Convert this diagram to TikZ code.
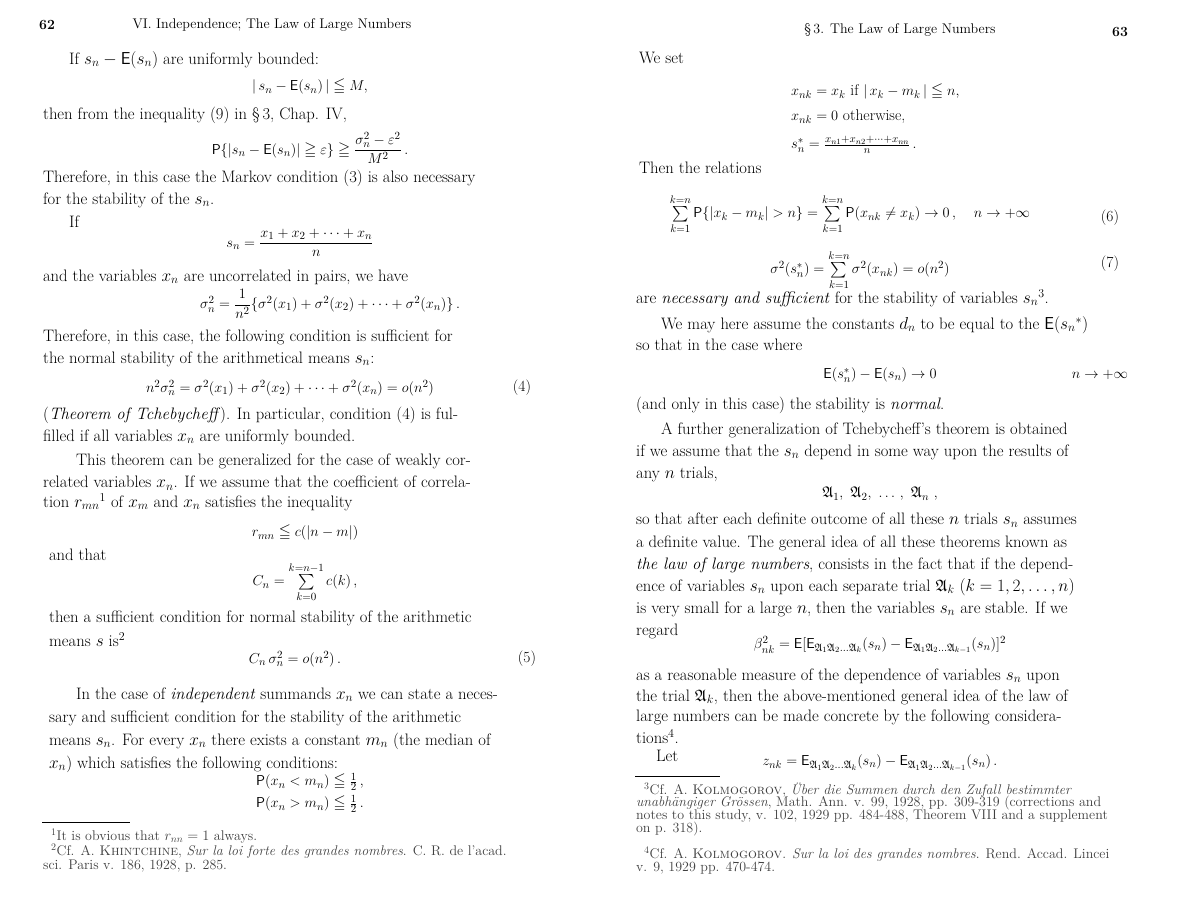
\documentclass[tikz,border=0pt]{standalone}
\usepackage{amsmath,amssymb}
\tikzset{every picture/.style={line width=0.75pt}}
\tikzset{
  txt/.style={anchor=west,inner sep=0.75pt,font=\fontsize{16.6}{19}\selectfont},
  eq/.style={inner sep=0.75pt,font=\fontsize{15.5}{18}\selectfont},
  fn/.style={anchor=west,inner sep=0.75pt,font=\fontsize{14}{15}\selectfont,text=black!75},
  hd/.style={inner sep=0.75pt,font=\fontsize{14}{16}\selectfont}
}
\newcommand{\PP}{\mathsf{P}}
\newcommand{\EE}{\mathsf{E}}
\newcommand{\A}{\mathfrak{A}}
\begin{document}
\begin{tikzpicture}[x=1pt,y=1pt,yscale=-1,xscale=1]
		\useasboundingbox (0,0) rectangle (1200,900);
		%left page
		\node (pgl) [hd] at (47,25) {\textbf{62}};
		\node (hdl) [hd] at (272,25) {VI. Independence; The Law of Large Numbers};
		\node (l1) [txt] at (68,60) {If $s_n-\EE(s_n)$ are uniformly bounded:};
		\node (e1) [eq] at (310,87) {$|\,s_n-\EE(s_n)\,|\leqq M,$};
		\node (l2) [txt] at (42,115) {then from the inequality (9) in \S\,3, Chap. IV,};
		\node (e2) [eq] at (310,148) {$\PP\{|s_n-\EE(s_n)|\geqq\varepsilon\}\geqq\dfrac{\sigma_n^2-\varepsilon^2}{M^2}\,.$};
		\node (l3) [txt] at (42,178) {Therefore, in this case the Markov condition (3) is also necessary};
		\node (l4) [txt] at (42,200) {for the stability of the $s_n$.};
		\node (l5) [txt] at (68,222) {If};
		\node (e3) [eq] at (300,243) {$s_n=\dfrac{x_1+x_2+\cdots+x_n}{n}$};
		\node (l6) [txt] at (42,277) {and the variables $x_n$ are uncorrelated in pairs, we have};
		\node (e4) [eq] at (330,304) {$\sigma_n^2=\dfrac{1}{n^2}\{\sigma^2(x_1)+\sigma^2(x_2)+\cdots+\sigma^2(x_n)\}\,.$};
		\node (l7) [txt] at (42,337) {Therefore, in this case, the following condition is sufficient for};
		\node (l8) [txt] at (42,359) {the normal stability of the arithmetical means $s_n$:};
		\node (e5) [eq] at (290,388) {$n^2\sigma_n^2=\sigma^2(x_1)+\sigma^2(x_2)+\cdots+\sigma^2(x_n)=o(n^2)$};
		\node (n4) [eq] at (522,388) {(4)};
		\node (l9) [txt] at (42,415) {(\textit{Theorem of Tchebycheff}). In particular, condition (4) is ful-};
		\node (l10) [txt] at (42,437) {filled if all variables $x_n$ are uniformly bounded.};
		\node (l11) [txt] at (75,461) {This theorem can be generalized for the case of weakly cor-};
		\node (l12) [txt] at (42,483) {related variables $x_n$. If we assume that the coefficient of correla-};
		\node (l13) [txt] at (42,502) {tion $r_{mn}{}^1$ of $x_m$ and $x_n$ satisfies the inequality};
		\node (e6) [eq] at (305,533) {$r_{mn}\leqq c(|n-m|)$};
		\node (l14) [txt] at (48,555) {and that};
		\node (e7) [eq] at (305,582) {$C_n=\sum\limits_{k=0}^{k=n-1}c(k)\,,$};
		\node (l15) [txt] at (48,618) {then a sufficient condition for normal stability of the arithmetic};
		\node (l16) [txt] at (48,640) {means $s$ is$^2$};
		\node (e8) [eq] at (295,659) {$C_n\,\sigma_n^2=o(n^2)\,.$};
		\node (n5) [eq] at (527,659) {(5)};
		\node (l17) [txt] at (75,695) {In the case of \textit{independent} summands $x_n$ we can state a neces-};
		\node (l18) [txt] at (48,718) {sary and sufficient condition for the stability of the arithmetic};
		\node (l19) [txt] at (48,741) {means $s_n$. For every $x_n$ there exists a constant $m_n$ (the median of};
		\node (l20) [txt] at (48,764) {$x_n$) which satisfies the following conditions:};
		\node (e9) [eq] at (310,782) {$\PP(x_n<m_n)\leqq\frac12\,,$};
		\node (e10) [eq] at (310,804) {$\PP(x_n>m_n)\leqq\frac12\,.$};
		\coordinate (rl1) at (42,822);
		\coordinate (rl2) at (130,822);
		\draw [line width=0.5pt] (rl1) -- (rl2);
		\node (f1) [fn] at (50,836) {$^1$It is obvious that $r_{nn}=1$ always.};
		\node (f2) [fn] at (50,851) {$^2$Cf. A. \textsc{Khintchine}, \textit{Sur la loi forte des grandes nombres}. C. R. de l'acad.};
		\node (f3) [fn] at (42,866) {sci. Paris v. 186, 1928, p. 285.};

		%right page
		\node (hdr) [hd] at (900,30) {\S\,3. The Law of Large Numbers};
		\node (pgr) [hd] at (1120,32) {\textbf{63}};
		\node (r1) [txt] at (638,58) {We set};
		\node (e11) [eq,anchor=west] at (790,92) {$x_{nk}=x_k$ if $|\,x_k-m_k\,|\leqq n,$};
		\node (e12) [eq,anchor=west] at (790,117) {$x_{nk}=0$ otherwise,};
		\node (e13) [eq,anchor=west] at (790,145) {$s_n^*=\frac{x_{n1}+x_{n2}+\cdots+x_{nn}}{n}\,.$};
		\node (r2) [txt] at (638,168) {Then the relations};
		\node (e14) [eq] at (850,214) {$\sum\limits_{k=1}^{k=n}\PP\{|x_k-m_k|>n\}=\sum\limits_{k=1}^{k=n}\PP(x_{nk}\neq x_k)\to0\,,\quad n\to+\infty$};
		\node (n6) [eq] at (1110,218) {(6)};
		\node (e15) [eq] at (860,270) {$\sigma^2(s_n^*)=\sum\limits_{k=1}^{k=n}\sigma^2(x_{nk})=o(n^2)$};
		\node (n7) [eq] at (1110,264) {(7)};
		\node (r3) [txt] at (635,298) {are \textit{necessary and sufficient} for the stability of variables $s_n{}^3$.};
		\node (r4) [txt] at (660,325) {We may here assume the constants $d_n$ to be equal to the $\EE(s_n{}^*)$};
		\node (r5) [txt] at (635,345) {so that in the case where};
		\node (e16) [eq] at (880,375) {$\EE(s_n^*)-\EE(s_n)\to0$};
		\node (e17) [eq] at (1100,375) {$n\to+\infty$};
		\node (r6) [txt] at (635,405) {(and only in this case) the stability is \textit{normal}.};
		\node (r7) [txt] at (660,430) {A further generalization of Tchebycheff's theorem is obtained};
		\node (r8) [txt] at (635,452) {if we assume that the $s_n$ depend in some way upon the results of};
		\node (r9) [txt] at (635,474) {any $n$ trials,};
		\node (e18) [eq] at (880,494) {$\A_1,\ \A_2,\ \ldots\,,\ \A_n\ ,$};
		\node (r10) [txt] at (635,520) {so that after each definite outcome of all these $n$ trials $s_n$ assumes};
		\node (r11) [txt] at (635,543) {a definite value. The general idea of all these theorems known as};
		\node (r12) [txt] at (635,565) {\textit{the law of large numbers}, consists in the fact that if the depend-};
		\node (r13) [txt] at (635,587) {ence of variables $s_n$ upon each separate trial $\A_k$ $(k=1,2,\ldots,n)$};
		\node (r14) [txt] at (635,609) {is very small for a large $n$, then the variables $s_n$ are stable. If we};
		\node (r15) [txt] at (635,631) {regard};
		\node (e19) [eq] at (880,645) {$\beta_{nk}^2=\EE[\EE_{\A_1\A_2\ldots\A_k}(s_n)-\EE_{\A_1\A_2\ldots\A_{k-1}}(s_n)]^2$};
		\node (r16) [txt] at (635,676) {as a reasonable measure of the dependence of variables $s_n$ upon};
		\node (r17) [txt] at (635,697) {the trial $\A_k$, then the above-mentioned general idea of the law of};
		\node (r18) [txt] at (635,717) {large numbers can be made concrete by the following considera-};
		\node (r19) [txt] at (635,737) {tions$^4$.};
		\node (r20) [txt] at (655,756) {Let};
		\node (e20) [eq] at (880,763) {$z_{nk}=\EE_{\A_1\A_2\ldots\A_k}(s_n)-\EE_{\A_1\A_2\ldots\A_{k-1}}(s_n)\,.$};
		\coordinate (rr1) at (635,776);
		\coordinate (rr2) at (720,776);
		\draw [line width=0.5pt] (rr1) -- (rr2);
		\node (f4) [fn] at (643,790) {$^3$Cf. A. \textsc{Kolmogorov}, \textit{\"Uber die Summen durch den Zufall bestimmter}};
		\node (f5) [fn] at (635,803) {\textit{unabh\"angiger Gr\"ossen}, Math. Ann. v. 99, 1928, pp. 309-319 (corrections and};
		\node (f6) [fn] at (635,816) {notes to this study, v. 102, 1929 pp. 484-488, Theorem VIII and a supplement};
		\node (f7) [fn] at (635,829) {on p. 318).};
		\node (f8) [fn] at (643,854) {$^4$Cf. A. \textsc{Kolmogorov}. \textit{Sur la loi des grandes nombres}. Rend. Accad. Lincei};
		\node (f9) [fn] at (635,868) {v. 9, 1929 pp. 470-474.};
\end{tikzpicture}
\end{document}
